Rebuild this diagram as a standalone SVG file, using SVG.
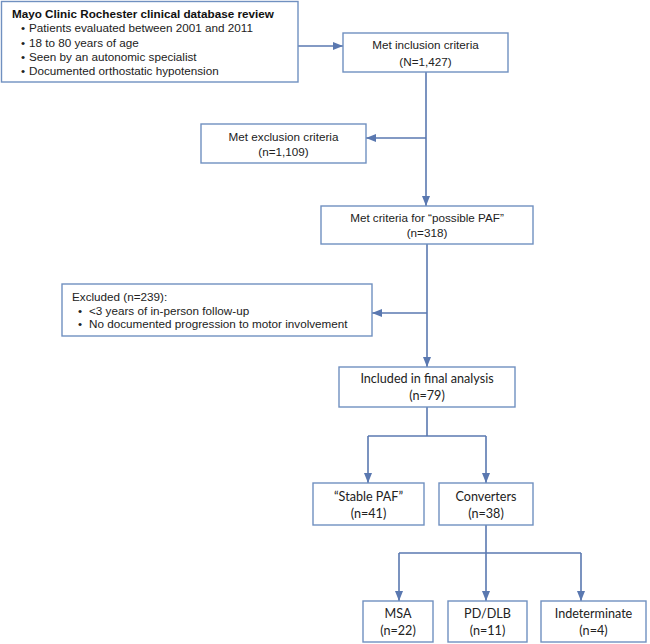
<svg xmlns="http://www.w3.org/2000/svg" width="650" height="644" viewBox="0 0 650 644">
<defs>
<marker id="ah" markerUnits="userSpaceOnUse" markerWidth="10" markerHeight="10" viewBox="0 0 10 10" refX="10" refY="5" orient="auto">
<path d="M0,1 L10,5 L0,9 Z" fill="#5a78b0"/>
</marker>
<style>
.box{fill:#fff;stroke:#7090c0;stroke-width:1.4}
.a{font-family:"Liberation Sans",Arial,sans-serif;font-size:11.7px;fill:#222}
.b{font-family:"Liberation Sans",Arial,sans-serif;font-size:11.7px;font-weight:bold;fill:#111}
.c{font-family:Lato,"Open Sans",sans-serif;font-size:12.6px;fill:#222}
.m{text-anchor:middle}
.ln{fill:none;stroke:#5a78b0;stroke-width:1.6}
</style>
</defs>
<g id="connectors">
<path class="ln" d="M298,46 H343" marker-end="url(#ah)"/>
<path class="ln" d="M426,72 V206" marker-end="url(#ah)"/>
<path class="ln" d="M426,138 H366" marker-end="url(#ah)"/>
<path class="ln" d="M427,244 V367" marker-end="url(#ah)"/>
<path class="ln" d="M427,313 H372" marker-end="url(#ah)"/>
<path class="ln" d="M427,407 V436"/>
<path class="ln" d="M368,436 H486"/>
<path class="ln" d="M368,436 V483" marker-end="url(#ah)"/>
<path class="ln" d="M486,436 V483" marker-end="url(#ah)"/>
<path class="ln" d="M486,525 V601" marker-end="url(#ah)"/>
<path class="ln" d="M399,553 H581"/>
<path class="ln" d="M399,553 V601" marker-end="url(#ah)"/>
<path class="ln" d="M581,553 V601" marker-end="url(#ah)"/>
</g>
<g id="review">
<rect class="box" x="1.5" y="1.5" width="296.5" height="80.5"/>
<text class="b" x="12" y="18">Mayo Clinic Rochester clinical database review</text>
<text class="a" x="21" y="32">•</text><text class="a" x="29" y="32">Patients evaluated between 2001 and 2011</text>
<text class="a" x="21" y="47">•</text><text class="a" x="29" y="47">18 to 80 years of age</text>
<text class="a" x="21" y="61">•</text><text class="a" x="29" y="61">Seen by an autonomic specialist</text>
<text class="a" x="21" y="75">•</text><text class="a" x="29" y="75">Documented orthostatic hypotension</text>
</g>
<g id="inclusion">
<rect class="box" x="343" y="33" width="165" height="39"/>
<text class="a m" x="425.5" y="49">Met inclusion criteria</text>
<text class="a m" x="425.5" y="66">(N=1,427)</text>
</g>
<g id="exclusion">
<rect class="box" x="201" y="124" width="165" height="39"/>
<text class="a m" x="283.5" y="141">Met exclusion criteria</text>
<text class="a m" x="283.5" y="156">(n=1,109)</text>
</g>
<g id="possible">
<rect class="box" x="321" y="206" width="212" height="38"/>
<text class="a m" x="427" y="222">Met criteria for “possible PAF”</text>
<text class="a m" x="427" y="237">(n=318)</text>
</g>
<g id="excluded">
<rect class="box" x="62" y="284" width="310" height="52"/>
<text class="a" x="72" y="301">Excluded (n=239):</text>
<text class="a" x="78" y="315">•</text><text class="a" x="89" y="315">&lt;3 years of in-person follow-up</text>
<text class="a" x="78" y="328">•</text><text class="a" x="89" y="328">No documented progression to motor involvement</text>
</g>
<g id="included">
<rect class="box" x="339" y="367" width="176" height="40"/>
<text class="c m" x="427" y="383">Included in final analysis</text>
<text class="c m" x="427" y="400">(n=79)</text>
</g>
<g id="stable">
<rect class="box" x="313" y="483" width="111" height="42"/>
<text class="c m" x="368.5" y="501">“Stable PAF”</text>
<text class="c m" x="368.5" y="518">(n=41)</text>
</g>
<g id="converters">
<rect class="box" x="439" y="483" width="94" height="42"/>
<text class="c m" x="486" y="501">Converters</text>
<text class="c m" x="486" y="518">(n=38)</text>
</g>
<g id="msa">
<rect class="box" x="363" y="601" width="70" height="41"/>
<text class="c m" x="398" y="618">MSA</text>
<text class="c m" x="398" y="635">(n=22)</text>
</g>
<g id="pddlb">
<rect class="box" x="448" y="601" width="79" height="41"/>
<text class="c m" x="487.5" y="618">PD/DLB</text>
<text class="c m" x="487.5" y="635">(n=11)</text>
</g>
<g id="indeterminate">
<rect class="box" x="541" y="601" width="105" height="41"/>
<text class="c m" x="593.5" y="618">Indeterminate</text>
<text class="c m" x="593.5" y="635">(n=4)</text>
</g>
</svg>
